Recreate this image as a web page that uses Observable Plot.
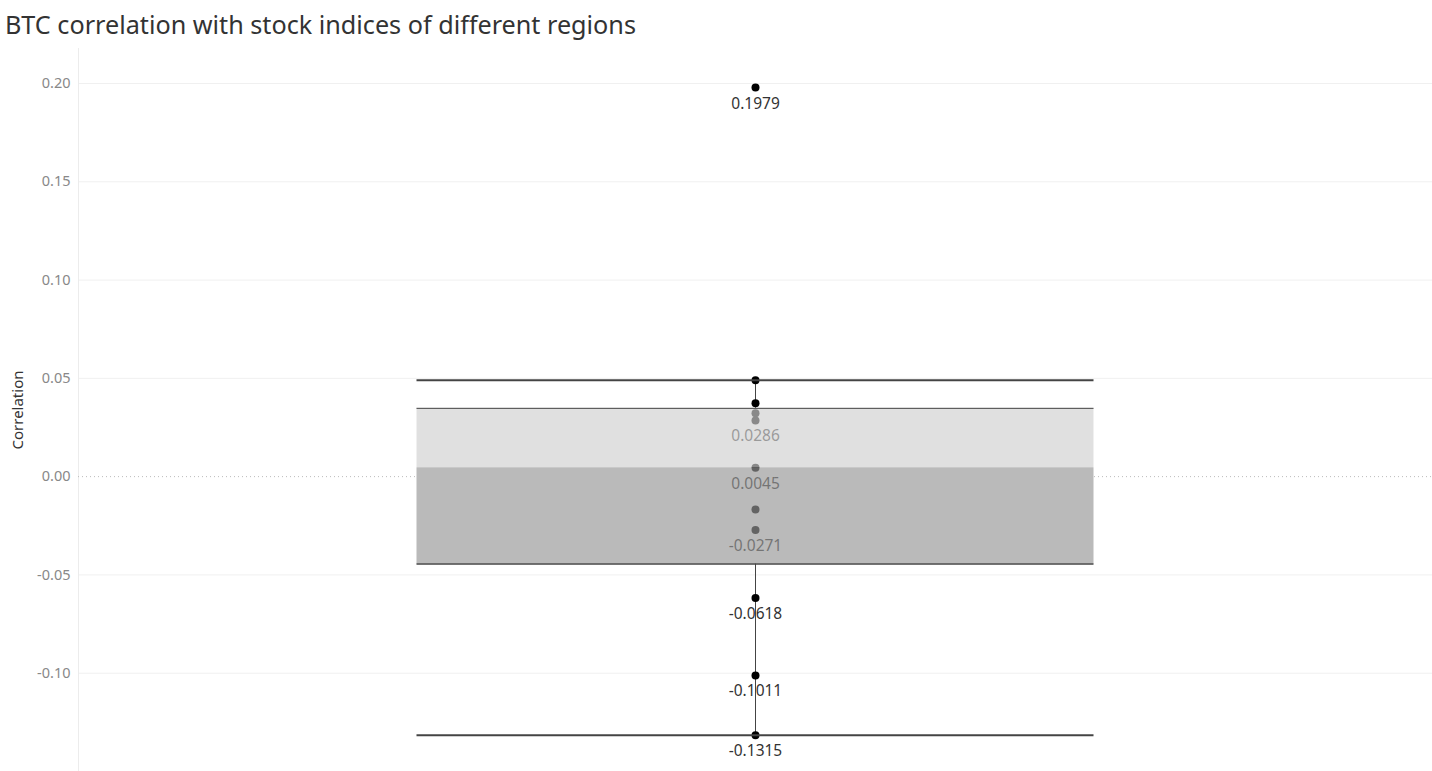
<!DOCTYPE html>
<html>
<head>
<meta charset="utf-8">
<script src="https://cdn.jsdelivr.net/npm/d3@7"></script>
<script src="https://cdn.jsdelivr.net/npm/@observablehq/plot@0.6"></script>
<style>
  html, body { margin: 0; padding: 0; background: #fff; }
  #title { height: 48px; box-sizing: border-box; padding: 7px 0 0 5px; font-family: "Noto Sans", sans-serif; font-size: 25.2px; color: #333; white-space: nowrap; }
  #chart svg { display: block; }
</style>
</head>
<body>
<div id="title">BTC correlation with stock indices of different regions</div>
<div id="chart"></div>
<script>
const correlations = [0.1979, 0.0490, 0.0373, 0.0322, 0.0286, 0.0045, -0.0167, -0.0271, -0.0618, -0.1011, -0.1315];
const labeled = [0.1979, 0.0286, 0.0045, -0.0271, -0.0618, -0.1011, -0.1315];
const yTicks = [-0.10, -0.05, 0.00, 0.05, 0.10, 0.15, 0.20];

const sorted = correlations.slice().sort(d3.ascending);
const q1 = d3.quantile(sorted, 0.25);
const med = d3.quantile(sorted, 0.5);
const q3 = d3.quantile(sorted, 0.75);
const iqr = q3 - q1;
const whiskHi = d3.max(sorted.filter(v => v <= q3 + 1.5 * iqr));
const whiskLo = d3.min(sorted.filter(v => v >= q1 - 1.5 * iqr));

const pts = correlations.map(v => ({x: 0.5, v}));
const lbl = labeled.map(v => ({x: 0.5, v, t: v.toFixed(4)}));
const font = "Noto Sans, sans-serif";

const chart = Plot.plot({
  width: 1432,
  height: 723,
  marginLeft: 78,
  marginRight: 0,
  marginTop: 0,
  marginBottom: 0,
  style: {fontFamily: font, background: "#fff"},
  x: {domain: [0, 1], axis: null},
  y: {domain: [-0.1500, 0.2178], ticks: yTicks, label: null},
  marks: [
    Plot.ruleY(yTicks.filter(d => d !== 0), {stroke: "#f0f0f0", strokeWidth: 1}),
    Plot.ruleX([0], {stroke: "#ececec"}),
    Plot.axisY({ticks: yTicks, tickFormat: d => d.toFixed(2), tickSize: 0, tickPadding: 8, fontSize: 14.5, fill: "#888", label: null}),
    Plot.text(["Correlation"], {frameAnchor: "left", textAnchor: "middle", dx: -60, rotate: -90, fontSize: 15, fill: "#333", fontFamily: font}),
    Plot.ruleX([0.5], {y1: q3, y2: whiskHi, stroke: "#444", strokeWidth: 1}),
    Plot.ruleX([0.5], {y1: q1, y2: whiskLo, stroke: "#444", strokeWidth: 1}),
    Plot.dot(pts, {x: "x", y: "v", r: 4, fill: "#000", stroke: "none"}),
    Plot.text(lbl, {x: "x", y: "v", text: "t", dy: 16, fontSize: 15.5, fill: "#333", fontFamily: font}),
    Plot.rectY([{a: med, b: q3}], {x1: 0.25, x2: 0.75, y1: "a", y2: "b", fill: "#d0d0d0", fillOpacity: 0.66}),
    Plot.rectY([{a: q1, b: med}], {x1: 0.25, x2: 0.75, y1: "a", y2: "b", fill: "#969696", fillOpacity: 0.66}),
    Plot.ruleY([0], {stroke: "#bbb", strokeDasharray: "1,3"}),
    Plot.ruleY([q3], {x1: 0.25, x2: 0.75, stroke: "#444", strokeWidth: 1}),
    Plot.ruleY([q1], {x1: 0.25, x2: 0.75, stroke: "#444", strokeWidth: 1.5}),
    Plot.ruleY([whiskHi, whiskLo], {x1: 0.25, x2: 0.75, stroke: "#444", strokeWidth: 2})
  ]
});
document.getElementById("chart").appendChild(chart);
</script>
</body>
</html>
